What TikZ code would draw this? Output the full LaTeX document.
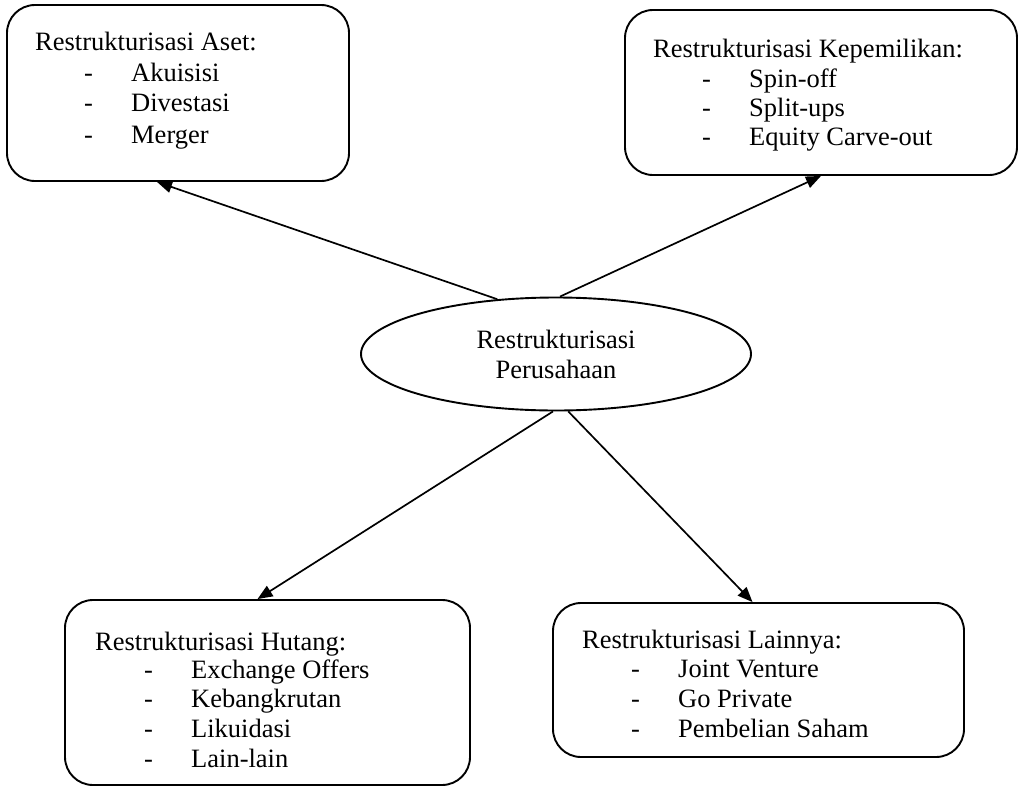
\documentclass[tikz,border=0pt]{standalone}
\usepackage{fontspec}
\setmainfont{Liberation Serif}
\usetikzlibrary{shapes.geometric,arrows.meta}
\newcommand{\butir}[1]{\hspace*{49pt}\makebox[47pt][l]{-}#1}
\begin{document}
\begin{tikzpicture}[x=1pt,y=-1pt,
	    kotak/.style={draw,line width=1.9pt,rounded corners=28pt,inner sep=0pt},
	    teks/.style={anchor=base west,inner sep=0pt},
	    panah/.style={line width=1.7pt,-{Triangle[length=15pt,width=12pt]}},
	    every node/.style={font=\fontsize{26.5}{30}\selectfont}]
	    \useasboundingbox (0,0) rectangle (1019,787);
	    % kotak-kotak
	    \node[kotak,minimum width=342,minimum height=176] (aset) at (178,93) {};
	    \node[kotak,minimum width=392,minimum height=165] (kep) at (821,92.5) {};
	    \node[kotak,minimum width=405,minimum height=185] (hut) at (267.5,692.5) {};
	    \node[kotak,minimum width=411,minimum height=154] (lain) at (758.5,680) {};
	    \node[ellipse,draw,line width=1.9pt,minimum width=390,minimum height=113,inner sep=0pt,align=center] (pers) at (556,354) {Restrukturisasi\\Perusahaan};
	    % isi kotak
	    \node[teks] (aset0) at (35,50) {Restrukturisasi Aset:};
	    \node[teks] (aset1) at (35,81) {\butir{Akuisisi}};
	    \node[teks] (aset2) at (35,111) {\butir{Divestasi}};
	    \node[teks] (aset3) at (35,143) {\butir{Merger}};
	    \node[teks] (kep0) at (653,57) {Restrukturisasi Kepemilikan:};
	    \node[teks] (kep1) at (653,87) {\butir{Spin-off}};
	    \node[teks] (kep2) at (653,116) {\butir{Split-ups}};
	    \node[teks] (kep3) at (653,145) {\butir{Equity Carve-out}};
	    \node[teks] (hut0) at (95,650) {Restrukturisasi Hutang:};
	    \node[teks] (hut1) at (95,678) {\butir{Exchange Offers}};
	    \node[teks] (hut2) at (95,707) {\butir{Kebangkrutan}};
	    \node[teks] (hut3) at (95,737) {\butir{Likuidasi}};
	    \node[teks] (hut4) at (95,767) {\butir{Lain-lain}};
	    \node[teks] (lain0) at (582,648) {Restrukturisasi Lainnya:};
	    \node[teks] (lain1) at (582,677) {\butir{Joint Venture}};
	    \node[teks] (lain2) at (582,707) {\butir{Go Private}};
	    \node[teks] (lain3) at (582,737) {\butir{Pembelian Saham}};
	    % panah
	    \draw[panah] (pers.137) -- ([xshift=-21pt]aset.south);
	    \draw[panah] (pers.86) -- (kep.south);
	    \draw[panah] (pers.267) -- ([xshift=-10pt]hut.north);
	    \draw[panah] (pers.282) -- ([xshift=-6pt]lain.north);
\end{tikzpicture}
\end{document}
